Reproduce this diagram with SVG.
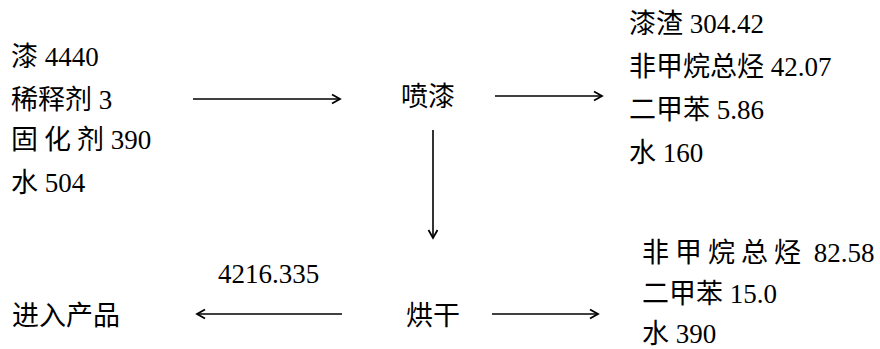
<svg xmlns="http://www.w3.org/2000/svg" width="880" height="349" viewBox="0 0 880 349">
<style>
text{font-family:"Liberation Serif","Times New Roman","Noto Sans CJK SC",serif;font-size:27px;fill:#000}
.c line{stroke:#000;stroke-width:1.6;fill:none}
</style>
<defs>
<marker id="ah" markerUnits="userSpaceOnUse" markerWidth="12" markerHeight="12" refX="10" refY="6" orient="auto">
<path d="M2,1.5 L10,6 L2,10.5" fill="none" stroke="#000" stroke-width="1.8"/>
</marker>
</defs>
<rect width="880" height="349" fill="#fff"/>
<g id="inputs">
<text x="11" y="66">漆 4440</text>
<text x="11" y="109">稀释剂 3</text>
<text x="11" y="149"><tspan letter-spacing="6">固化</tspan>剂 390</text>
<text x="11" y="192">水 504</text>
</g>
<g id="spray"><text x="401" y="106">喷漆</text></g>
<g id="spray-out">
<text x="629" y="33">漆渣 304.42</text>
<text x="629" y="76">非甲烷总烃 42.07</text>
<text x="629" y="119">二甲苯 5.86</text>
<text x="629" y="162">水 160</text>
</g>
<g id="dry"><text x="406" y="325">烘干</text></g>
<g id="dry-out">
<text x="642" y="262"><tspan letter-spacing="6">非甲烷总烃</tspan> 82.58</text>
<text x="642" y="303">二甲苯 15.0</text>
<text x="642" y="343">水 390</text>
</g>
<g id="product"><text x="12" y="325">进入产品</text></g>
<g id="product-label"><text x="218" y="283">4216.335</text></g>
<g class="c" id="connectors">
<line x1="193" y1="99" x2="340" y2="99" marker-end="url(#ah)"/>
<line x1="495" y1="96" x2="602" y2="96" marker-end="url(#ah)"/>
<line x1="433" y1="130" x2="433" y2="238" marker-end="url(#ah)"/>
<line x1="342" y1="314" x2="197" y2="314" marker-end="url(#ah)"/>
<line x1="492" y1="314" x2="598" y2="314" marker-end="url(#ah)"/>
</g>
</svg>
